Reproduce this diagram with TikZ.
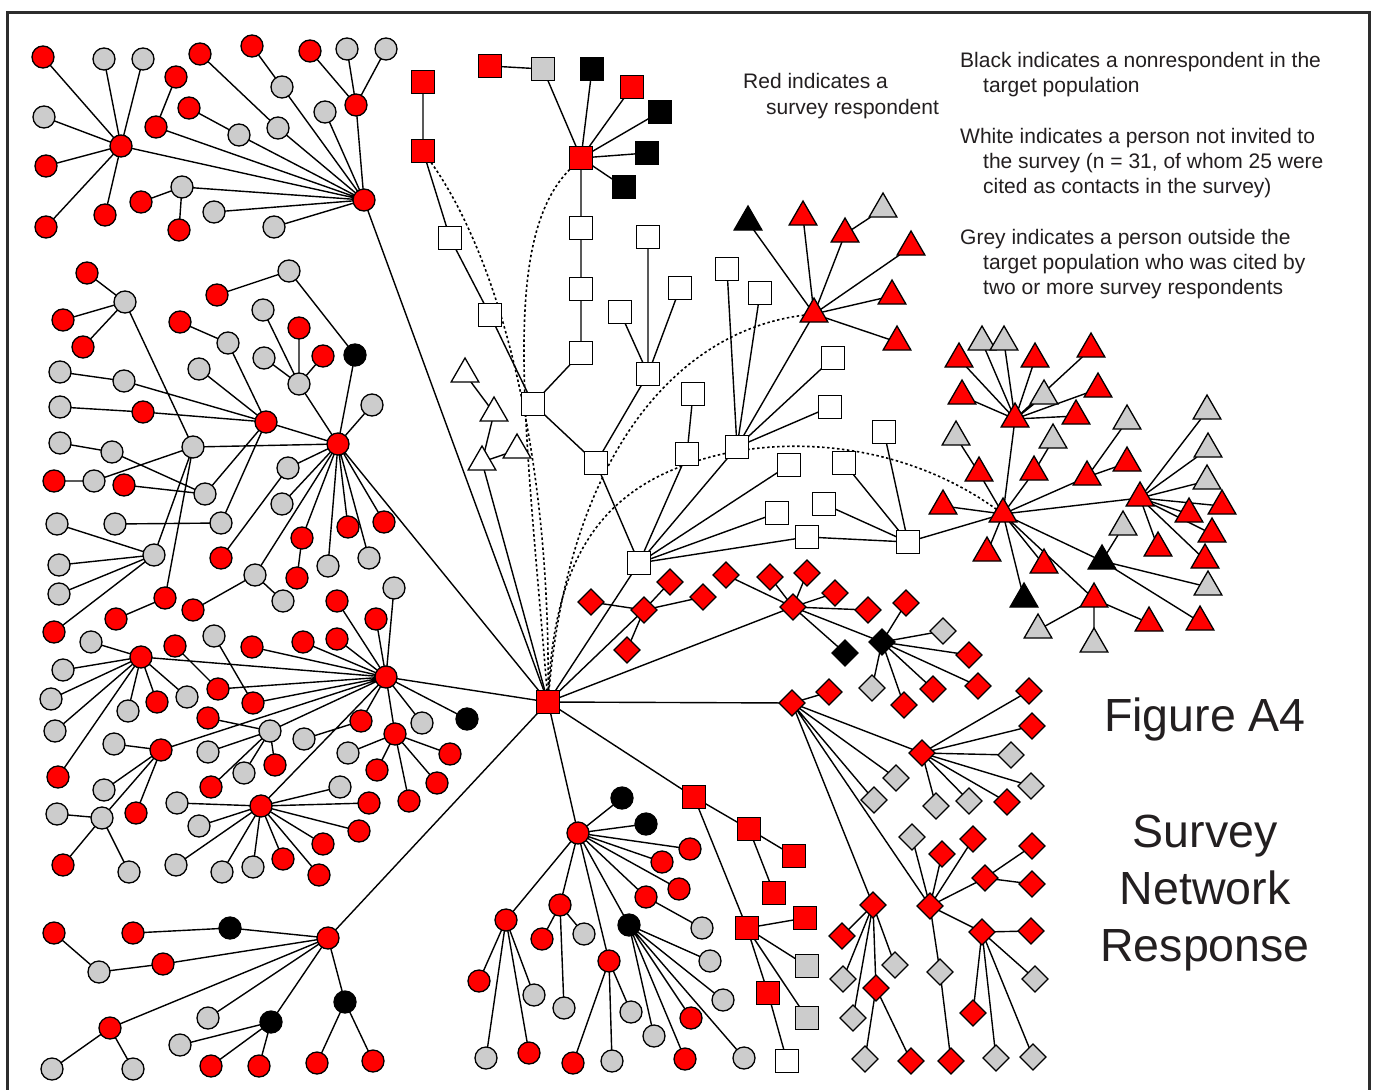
\documentclass[tikz,border=0pt]{standalone}
\usepackage{fontspec}
\setmainfont{Liberation Sans}
\usetikzlibrary{shapes.geometric}
\definecolor{rr}{RGB}{255,0,0}
\definecolor{gg}{RGB}{204,204,204}
\definecolor{fr}{RGB}{45,45,45}
\definecolor{tx}{RGB}{35,31,32}
\pgfdeclarelayer{bg}
\pgfsetlayers{bg,main}
\newcommand\mynd[3]{\node[#1] (#2) at (#3) {};}
\tikzset{
 nbase/.style={draw=black, line width=1.3pt, inner sep=0pt, outer sep=0pt},
 ncirc/.style={nbase, circle, minimum size=22pt},
 nsq/.style={nbase, rectangle, minimum size=23pt},
 ntri/.style={nbase, regular polygon, regular polygon sides=3, minimum size=32pt, yshift=-4pt},
 ndia/.style={nbase, diamond, minimum width=26pt, minimum height=26pt},
 ncr/.style={ncirc, fill=rr}, ncg/.style={ncirc, fill=gg}, nck/.style={ncirc, fill=black},
 nsr/.style={nsq, fill=rr}, nsg/.style={nsq, fill=gg}, nsk/.style={nsq, fill=black}, nsw/.style={nsq, fill=white},
 ntr/.style={ntri, fill=rr}, ntg/.style={ntri, fill=gg}, ntk/.style={ntri, fill=black}, ntw/.style={ntri, fill=white},
 ndr/.style={ndia, fill=rr}, ndg/.style={ndia, fill=gg}, ndk/.style={ndia, fill=black},
 lk/.style={line width=1.4pt, draw=black},
 dotl/.style={line width=1.6pt, draw=black, dash pattern=on 2.5pt off 2.5pt},
 lg/.style={font=\fontsize{21}{25}\selectfont, anchor=base west, inner sep=0pt, text=tx},
 big/.style={font=\fontsize{46.5}{57}\selectfont, anchor=base, inner sep=0pt, text=tx},
}
\begin{document}
\begin{tikzpicture}[x=1pt,y=-1pt]
\useasboundingbox (0,0) rectangle (1375,1089);
\begin{pgfonlayer}{bg}
\fill[white] (0,0) rectangle (1375,1089);
\end{pgfonlayer}
\draw[line width=2.6pt, fr] (7.5,1095) -- (7.5,12.5) -- (1369.5,12.5) -- (1369.5,1095);
% hub
\mynd{nsr}{H}{548,702}
% cluster A
\mynd{ncr}{a1}{364,200}
\mynd{ncr}{a2}{121,146}
\mynd{ncr}{a3}{43,57}
\mynd{ncg}{a4}{104,59}
\mynd{ncg}{a5}{143,59}
\mynd{ncg}{a6}{44,117}
\mynd{ncr}{a7}{46,166}
\mynd{ncr}{a8}{46,227}
\mynd{ncr}{a9}{105,215}
\mynd{ncr}{a10}{156,127}
\mynd{ncr}{a11}{176,77}
\mynd{ncg}{a12}{239,135}
\mynd{ncr}{a13}{189,108}
\mynd{ncg}{a14}{278,128}
\mynd{ncr}{a15}{200,54}
\mynd{ncg}{a16}{282,87}
\mynd{ncr}{a17}{252,46}
\mynd{ncg}{a18}{325,112}
\mynd{ncr}{a19}{356,105}
\mynd{ncr}{a20}{310,51}
\mynd{ncg}{a21}{347,49}
\mynd{ncg}{a22}{386,49}
\mynd{ncg}{a23}{182,187}
\mynd{ncr}{a24}{141,202}
\mynd{ncr}{a25}{179,230}
\mynd{ncg}{a26}{214,212}
\mynd{ncg}{a27}{274,227}
% cluster B
\mynd{ncr}{b1}{338,444}
\mynd{ncr}{b2}{266,422}
\mynd{ncr}{b3}{87,273}
\mynd{ncg}{b4}{125,302}
\mynd{ncr}{b5}{63,320}
\mynd{ncr}{b6}{83,347}
\mynd{ncg}{b7}{60,372}
\mynd{ncg}{b8}{124,381}
\mynd{ncg}{b9}{60,407}
\mynd{ncr}{b10}{143,412}
\mynd{ncg}{b11}{60,443}
\mynd{ncg}{b12}{112,452}
\mynd{ncr}{b13}{54,481}
\mynd{ncg}{b14}{94,481}
\mynd{ncr}{b15}{124,485}
\mynd{ncg}{b16}{205,494}
\mynd{ncg}{b17}{193,447}
\mynd{ncg}{b18}{57,524}
\mynd{ncg}{b19}{59,565}
\mynd{ncg}{b20}{59,594}
\mynd{ncg}{b21}{154,555}
\mynd{ncr}{b22}{165,598}
\mynd{ncr}{b23}{54,632}
\mynd{ncg}{b24}{115,524}
\mynd{ncg}{b25}{221,523}
\mynd{ncr}{b26}{217,295}
\mynd{ncg}{b27}{289,271}
\mynd{nck}{b28}{355,355}
\mynd{ncr}{b29}{180,322}
\mynd{ncg}{b30}{228,343}
\mynd{ncg}{b31}{199,369}
\mynd{ncg}{b32}{263,310}
\mynd{ncr}{b33}{299,328}
\mynd{ncg}{b34}{264,358}
\mynd{ncr}{b35}{323,356}
\mynd{ncg}{b36}{299,384}
\mynd{ncg}{b37}{372,405}
\mynd{ncg}{b38}{288,468}
\mynd{ncr}{b39}{221,558}
\mynd{ncg}{b40}{282,504}
\mynd{ncr}{b41}{302,538}
\mynd{ncr}{b42}{297,578}
\mynd{ncr}{b43}{348,527}
\mynd{ncr}{b44}{384,522}
\mynd{ncg}{b45}{328,566}
\mynd{ncg}{b46}{369,558}
\mynd{ncg}{b47}{255,575}
\mynd{ncg}{b48}{283,601}
\mynd{ncr}{b49}{193,610}
\mynd{ncr}{b50}{116,619}
% cluster D (left lower)
\mynd{ncr}{d1}{386,677}
\mynd{ncr}{d2}{141,657}
\mynd{ncg}{d3}{91,642}
\mynd{ncg}{d4}{63,670}
\mynd{ncg}{d5}{51,699}
\mynd{ncg}{d6}{55,731}
\mynd{ncr}{d7}{58,777}
\mynd{ncg}{d8}{128,711}
\mynd{ncr}{d9}{157,702}
\mynd{ncg}{d10}{187,697}
\mynd{ncr}{d11}{175,646}
\mynd{ncr}{d12}{218,689}
\mynd{ncg}{d13}{214,636}
\mynd{ncr}{d14}{253,703}
\mynd{ncr}{d15}{252,647}
\mynd{ncr}{d16}{303,642}
\mynd{ncr}{d17}{337,639}
\mynd{ncr}{d18}{337,601}
\mynd{ncr}{d19}{376,619}
\mynd{ncg}{d20}{394,588}
\mynd{ncr}{d21}{161,750}
\mynd{ncg}{d22}{114,744}
\mynd{ncg}{d23}{104,790}
\mynd{ncg}{d24}{102,818}
\mynd{ncr}{d25}{136,813}
\mynd{ncg}{d26}{57,814}
\mynd{ncr}{d27}{63,865}
\mynd{ncg}{d28}{129,872}
\mynd{ncg}{d29}{270,731}
\mynd{ncr}{d30}{208,718}
\mynd{ncg}{d31}{208,752}
\mynd{ncg}{d32}{244,773}
\mynd{ncr}{d33}{275,765}
\mynd{ncr}{d34}{211,787}
\mynd{ncg}{d35}{304,739}
\mynd{ncr}{d36}{361,721}
\mynd{ncr}{d37}{395,734}
\mynd{ncg}{d38}{348,753}
\mynd{ncr}{d39}{377,770}
\mynd{ncr}{d40}{450,754}
\mynd{ncr}{d41}{437,783}
\mynd{ncr}{d42}{409,801}
\mynd{ncg}{d43}{422,723}
\mynd{nck}{d44}{467,719}
\mynd{ncr}{d45}{261,806}
\mynd{ncg}{d46}{177,803}
\mynd{ncg}{d47}{199,826}
\mynd{ncg}{d48}{340,787}
\mynd{ncr}{d49}{369,803}
\mynd{ncr}{d50}{359,831}
\mynd{ncr}{d51}{323,844}
\mynd{ncr}{d52}{319,875}
\mynd{ncr}{d53}{283,859}
\mynd{ncg}{d54}{253,867}
\mynd{ncg}{d55}{222,872}
\mynd{ncg}{d56}{176,865}
% cluster E (bottom left)
\mynd{ncr}{e1}{328,938}
\mynd{ncr}{e2}{54,933}
\mynd{ncr}{e3}{133,933}
\mynd{ncg}{e4}{99,972}
\mynd{nck}{e5}{230,928}
\mynd{ncr}{e6}{163,964}
\mynd{ncr}{e7}{110,1028}
\mynd{ncg}{e8}{52,1069}
\mynd{ncg}{e9}{133,1069}
\mynd{ncg}{e10}{208,1018}
\mynd{nck}{e11}{271,1022}
\mynd{ncg}{e12}{180,1045}
\mynd{ncr}{e13}{211,1066}
\mynd{ncr}{e14}{259,1066}
\mynd{nck}{e15}{345,1002}
\mynd{ncr}{e16}{317,1063}
\mynd{ncr}{e17}{373,1061}
% cluster F (bottom middle)
\mynd{ncr}{f1}{578,833}
\mynd{nck}{f2}{622,798}
\mynd{nck}{f3}{646,824}
\mynd{ncr}{f4}{690,849}
\mynd{ncr}{f5}{662,862}
\mynd{ncr}{f6}{679,889}
\mynd{ncr}{f7}{646,897}
\mynd{ncg}{f8}{702,928}
\mynd{nck}{f9}{629,925}
\mynd{ncg}{f10}{710,961}
\mynd{ncg}{f11}{723,1000}
\mynd{ncr}{f12}{691,1018}
\mynd{ncg}{f13}{654,1036}
\mynd{ncr}{f14}{685,1059}
\mynd{ncg}{f15}{744,1058}
\mynd{ncr}{f16}{506,920}
\mynd{ncr}{f17}{479,981}
\mynd{ncg}{f18}{534,995}
\mynd{ncg}{f19}{486,1058}
\mynd{ncr}{f20}{529,1053}
\mynd{ncr}{f21}{560,905}
\mynd{ncr}{f22}{542,939}
\mynd{ncg}{f23}{584,934}
\mynd{ncg}{f24}{564,1008}
\mynd{ncr}{f25}{609,961}
\mynd{ncg}{f26}{631,1012}
\mynd{ncr}{f27}{573,1063}
\mynd{ncg}{f28}{612,1061}
% red squares bottom
\mynd{nsr}{s1}{694,797}
\mynd{nsr}{s2}{749,829}
\mynd{nsr}{s3}{794,856}
\mynd{nsr}{s4}{774,893}
\mynd{nsr}{s5}{747,928}
\mynd{nsr}{s6}{805,918}
\mynd{nsg}{s7}{807,966}
\mynd{nsg}{s8}{807,1018}
\mynd{nsr}{s9}{768,993}
\mynd{nsw}{s10}{787,1061}
% squares top
\mynd{nsr}{t1}{423,82}
\mynd{nsr}{t2}{423,151}
\mynd{nsw}{t3}{450,238}
\mynd{nsw}{t4}{490,315}
\mynd{nsw}{t5}{533,404}
\mynd{nsr}{t6}{490,66}
\mynd{nsg}{t7}{543,69}
\mynd{nsr}{t8}{581,158}
\mynd{nsk}{t9}{592,69}
\mynd{nsr}{t10}{632,87}
\mynd{nsk}{t11}{660,112}
\mynd{nsk}{t12}{647,153}
\mynd{nsk}{t13}{624,187}
\mynd{nsw}{t14}{581,228}
\mynd{nsw}{t15}{581,289}
\mynd{nsw}{t16}{581,353}
\mynd{nsw}{t17}{596,463}
\mynd{nsw}{t18}{648,374}
\mynd{nsw}{t19}{648,237}
\mynd{nsw}{t20}{680,288}
\mynd{nsw}{t21}{620,312}
\mynd{nsw}{t22}{639,563}
\mynd{nsw}{t23}{687,454}
\mynd{nsw}{t24}{693,394}
\mynd{nsw}{t25}{737,447}
\mynd{nsw}{t26}{727,269}
\mynd{nsw}{t27}{760,293}
\mynd{nsw}{t28}{833,358}
\mynd{nsw}{t29}{830,407}
\mynd{nsw}{t30}{789,465}
\mynd{nsw}{t31}{777,513}
\mynd{nsw}{t32}{807,537}
\mynd{nsw}{t33}{908,542}
\mynd{nsw}{t34}{824,504}
\mynd{nsw}{t35}{844,463}
\mynd{nsw}{t36}{884,432}
% white triangles
\mynd{ntw}{w1}{465,370}
\mynd{ntw}{w2}{494,409}
\mynd{ntw}{w3}{482,458}
\mynd{ntw}{w4}{517,446}
% triangle hub U
\mynd{ntr}{u1}{814,310}
\mynd{ntk}{u2}{748,218}
\mynd{ntr}{u3}{803,213}
\mynd{ntr}{u4}{845,230}
\mynd{ntg}{u5}{883,205}
\mynd{ntr}{u6}{911,243}
\mynd{ntr}{u7}{892,292}
\mynd{ntr}{u8}{897,338}
% triangle cluster V
\mynd{ntr}{v1}{1003,510}
\mynd{ntr}{v2}{1015,415}
\mynd{ntg}{v3}{982,338}
\mynd{ntg}{v4}{1004,338}
\mynd{ntr}{v5}{959,355}
\mynd{ntr}{v6}{1035,355}
\mynd{ntr}{v7}{1091,345}
\mynd{ntr}{v8}{962,392}
\mynd{ntg}{v9}{1044,392}
\mynd{ntr}{v10}{1098,385}
\mynd{ntr}{v11}{1076,412}
\mynd{ntg}{v12}{956,433}
\mynd{ntr}{v13}{979,469}
\mynd{ntg}{v14}{1053,436}
\mynd{ntr}{v15}{1034,468}
\mynd{ntg}{v16}{1127,417}
\mynd{ntr}{v17}{1087,473}
\mynd{ntr}{v18}{1127,459}
\mynd{ntr}{v19}{1140,494}
\mynd{ntg}{v20}{1207,407}
\mynd{ntg}{v21}{1208,445}
\mynd{ntg}{v22}{1207,477}
\mynd{ntr}{v23}{1222,502}
\mynd{ntr}{v24}{1189,510}
\mynd{ntr}{v25}{1212,530}
\mynd{ntr}{v26}{1205,556}
\mynd{ntr}{v27}{1158,544}
\mynd{ntr}{v28}{943,502}
\mynd{ntr}{v29}{987,549}
\mynd{ntr}{v30}{1044,561}
\mynd{ntk}{v31}{1024,595}
\mynd{ntk}{v32}{1102,557}
\mynd{ntg}{v33}{1123,523}
\mynd{ntg}{v34}{1208,583}
\mynd{ntr}{v35}{1200,618}
\mynd{ntr}{v36}{1094,595}
\mynd{ntg}{v37}{1038,626}
\mynd{ntg}{v38}{1094,640}
\mynd{ntr}{v39}{1149,619}
% diamonds
\mynd{ndr}{x1}{644,610}
\mynd{ndr}{x2}{591,602}
\mynd{ndr}{x3}{670,582}
\mynd{ndr}{x4}{703,597}
\mynd{ndr}{x5}{627,650}
\mynd{ndr}{x6}{793,607}
\mynd{ndr}{x7}{726,575}
\mynd{ndr}{x8}{770,577}
\mynd{ndr}{x9}{807,573}
\mynd{ndr}{x10}{835,593}
\mynd{ndr}{x11}{868,610}
\mynd{ndk}{x12}{845,653}
\mynd{ndk}{x13}{882,642}
\mynd{ndr}{x14}{906,603}
\mynd{ndg}{x15}{943,631}
\mynd{ndr}{x16}{969,655}
\mynd{ndr}{x17}{978,686}
\mynd{ndg}{x18}{872,688}
\mynd{ndr}{x19}{904,705}
\mynd{ndr}{x20}{933,689}
\mynd{ndr}{x21}{792,703}
\mynd{ndr}{x22}{829,692}
\mynd{ndr}{x23}{922,753}
\mynd{ndr}{x24}{1029,691}
\mynd{ndr}{x25}{1032,726}
\mynd{ndg}{x26}{1011,755}
\mynd{ndg}{x27}{1031,786}
\mynd{ndr}{x28}{1007,802}
\mynd{ndg}{x29}{969,801}
\mynd{ndg}{x30}{936,806}
\mynd{ndg}{x31}{896,778}
\mynd{ndg}{x32}{874,800}
\mynd{ndr}{x33}{930,906}
\mynd{ndg}{x34}{912,837}
\mynd{ndr}{x35}{942,854}
\mynd{ndr}{x36}{973,839}
\mynd{ndr}{x37}{985,878}
\mynd{ndr}{x38}{1032,846}
\mynd{ndr}{x39}{1032,884}
\mynd{ndr}{x40}{982,932}
\mynd{ndr}{x41}{1031,931}
\mynd{ndg}{x42}{1035,979}
\mynd{ndr}{x43}{973,1013}
\mynd{ndg}{x44}{996,1058}
\mynd{ndg}{x45}{1033,1057}
\mynd{ndg}{x46}{940,972}
\mynd{ndr}{x47}{951,1061}
\mynd{ndr}{x48}{873,905}
\mynd{ndr}{x49}{842,936}
\mynd{ndg}{x50}{895,965}
\mynd{ndg}{x51}{843,979}
\mynd{ndr}{x52}{876,988}
\mynd{ndg}{x53}{853,1018}
\mynd{ndg}{x54}{865,1059}
\mynd{ndr}{x55}{911,1061}
\coordinate (m4) at (700,460);
% edges
\begin{pgfonlayer}{bg}
\draw[lk] (a1)--(H) (a2)--(a1) (a3)--(a2) (a4)--(a2) (a5)--(a2) (a6)--(a2) (a7)--(a2) (a8)--(a2) (a9)--(a2) (a10)--(a1) (a11)--(a10) (a12)--(a1) (a13)--(a12) (a14)--(a1) (a15)--(a14) (a16)--(a1) (a17)--(a16) (a18)--(a1) (a19)--(a1) (a20)--(a19) (a21)--(a19) (a22)--(a19) (a23)--(a1) (a24)--(a23) (a25)--(a23) (a26)--(a1) (a27)--(a1);
\draw[lk] (b1)--(H) (b2)--(b1) (b3)--(b4) (b5)--(b4) (b6)--(b4) (b4)--(b17) (b7)--(b8) (b8)--(b2) (b9)--(b10) (b10)--(b2) (b11)--(b12) (b12)--(b16) (b13)--(b14) (b14)--(b17) (b15)--(b16) (b16)--(b2) (b17)--(b1) (b18)--(b21) (b19)--(b21) (b20)--(b21) (b21)--(b17) (b22)--(b17) (b23)--(b21) (b24)--(b25) (b25)--(b2) (b26)--(b27) (b27)--(b28) (b28)--(b1) (b29)--(b30) (b30)--(b2) (b31)--(b2) (b32)--(b36) (b33)--(b36) (b34)--(b36) (b35)--(b36) (b36)--(b1) (b37)--(b1) (b38)--(b1) (b39)--(b38) (b40)--(b1) (b41)--(b1) (b42)--(b41) (b43)--(b1) (b44)--(b1) (b45)--(b1) (b46)--(b1) (b47)--(b1) (b48)--(b47) (b49)--(b47) (b50)--(b22);
\draw[lk] (d1)--(H) (d2)--(d1) (d3)--(d2) (d4)--(d2) (d5)--(d2) (d6)--(d2) (d7)--(d2) (d8)--(d2) (d9)--(d2) (d10)--(d2) (d11)--(d12) (d12)--(d1) (d13)--(d14) (d14)--(d1) (d15)--(d1) (d16)--(d1) (d17)--(d1) (d18)--(d1) (d19)--(d1) (d20)--(d1) (d21)--(d1) (d22)--(d21) (d23)--(d21) (d24)--(d21) (d25)--(d21) (d26)--(d24) (d27)--(d24) (d28)--(d24) (d29)--(d1) (d30)--(d29) (d31)--(d29) (d32)--(d29) (d33)--(d29) (d34)--(d29) (d35)--(d36) (d36)--(d1) (d37)--(d1) (d38)--(d37) (d39)--(d37) (d40)--(d37) (d41)--(d37) (d42)--(d37) (d43)--(d1) (d44)--(d1) (d45)--(d1) (d46)--(d45) (d47)--(d45) (d48)--(d45) (d49)--(d45) (d50)--(d45) (d51)--(d45) (d52)--(d45) (d53)--(d45) (d54)--(d45) (d55)--(d45) (d56)--(d45);
\draw[lk] (e1)--(H) (e2)--(e4) (e3)--(e5) (e5)--(e1) (e4)--(e6) (e6)--(e1) (e7)--(e1) (e8)--(e7) (e9)--(e7) (e10)--(e1) (e11)--(e1) (e12)--(e11) (e13)--(e11) (e14)--(e11) (e15)--(e1) (e16)--(e15) (e17)--(e15);
\draw[lk] (f1)--(H) (f2)--(f1) (f3)--(f1) (f4)--(f1) (f5)--(f1) (f6)--(f1) (f7)--(f1) (f8)--(f7) (f9)--(f1) (f10)--(f9) (f11)--(f9) (f12)--(f9) (f13)--(f9) (f14)--(f9) (f15)--(f9) (f16)--(f1) (f17)--(f16) (f18)--(f16) (f19)--(f16) (f20)--(f16) (f21)--(f1) (f22)--(f21) (f23)--(f21) (f24)--(f21) (f25)--(f1) (f26)--(f25) (f27)--(f25) (f28)--(f25);
\draw[lk] (s1)--(H) (s2)--(s1) (s3)--(s2) (s4)--(s2) (s5)--(s1) (s6)--(s5) (s7)--(s5) (s8)--(s5) (s9)--(s5) (s10)--(s9);
\draw[lk] (t1)--(t2) (t2)--(t3) (t3)--(t4) (t4)--(t5) (t6)--(t7) (t7)--(t8) (t9)--(t8) (t10)--(t8) (t11)--(t8) (t12)--(t8) (t13)--(t8) (t14)--(t8) (t15)--(t14) (t16)--(t15) (t16)--(t5) (t17)--(t5) (t18)--(t17) (t19)--(t18) (t20)--(t18) (t21)--(t18) (t22)--(t17) (t22)--(H) (t23)--(t22) (t24)--(t23) (t25)--(t22) (t26)--(t25) (t27)--(t25) (t28)--(t25) (t29)--(t25) (t30)--(t22) (t31)--(t22) (t32)--(t22) (t33)--(t32) (t34)--(t33) (t35)--(t33) (t36)--(t33);
\draw[lk] (w1)--(w2) (w2)--(w3) (w4)--(w3) (w3)--(H);
\draw[lk] (u1)--(t25) (u2)--(u1) (u3)--(u1) (u4)--(u1) (u5)--(u4) (u6)--(u1) (u7)--(u1) (u8)--(u1);
\draw[lk] (v1)--(t33) (v2)--(v1) (v3)--(v2) (v4)--(v2) (v5)--(v2) (v6)--(v2) (v7)--(v2) (v8)--(v2) (v9)--(v2) (v10)--(v2) (v11)--(v2) (v12)--(v13) (v13)--(v1) (v14)--(v15) (v15)--(v1) (v16)--(v17) (v17)--(v1) (v18)--(v17) (v19)--(v1) (v20)--(v19) (v21)--(v19) (v22)--(v19) (v23)--(v19) (v24)--(v19) (v25)--(v19) (v26)--(v19) (v27)--(v19) (v28)--(v1) (v29)--(v1) (v30)--(v1) (v31)--(v1) (v32)--(v1) (v33)--(v32) (v34)--(v32) (v35)--(v32) (v36)--(v1) (v37)--(v36) (v38)--(v36) (v39)--(v36);
\draw[lk] (x1)--(H) (x2)--(x1) (x3)--(x1) (x4)--(x1) (x5)--(x1) (x6)--(H) (x7)--(x6) (x8)--(x6) (x9)--(x6) (x10)--(x6) (x11)--(x6) (x12)--(x6) (x13)--(x6) (x14)--(x13) (x15)--(x13) (x16)--(x13) (x17)--(x13) (x18)--(x13) (x19)--(x13) (x20)--(x13) (x21)--(H) (x22)--(x21) (x23)--(x21) (x24)--(x23) (x25)--(x23) (x26)--(x23) (x27)--(x23) (x28)--(x23) (x29)--(x23) (x30)--(x23) (x31)--(x21) (x32)--(x21) (x33)--(x21) (x34)--(x33) (x35)--(x33) (x36)--(x33) (x37)--(x33) (x38)--(x37) (x39)--(x37) (x40)--(x33) (x41)--(x40) (x42)--(x40) (x43)--(x40) (x44)--(x40) (x45)--(x40) (x46)--(x33) (x47)--(x46) (x48)--(x21) (x49)--(x48) (x50)--(x48) (x51)--(x48) (x52)--(x48) (x53)--(x48) (x54)--(x52) (x55)--(x52);
\draw[dotl] (t2) .. controls (500,260) and (550,450) .. (H);
\draw[dotl] (t8) .. controls (500,240) and (525,420) .. (H);
\draw[dotl] (u1) .. controls (680,330) and (570,450) .. (H);
\draw[dotl] (v1) .. controls (900,440) and (780,435) .. (m4) .. controls (600,490) and (555,560) .. (H);
\end{pgfonlayer}
% legend
\node[lg] (l1) at (743,89) {Red indicates a};
\node[lg] (l2) at (766,114) {survey respondent};
\node[lg] (l3) at (960,68) {Black indicates a nonrespondent in the};
\node[lg] (l4) at (983,93) {target population};
\node[lg] (l5) at (960,143) {White indicates a person not invited to};
\node[lg] (l6) at (983,168) {the survey (n = 31, of whom 25 were};
\node[lg] (l7) at (983,193) {cited as contacts in the survey)};
\node[lg] (l8) at (960,244) {Grey indicates a person outside the};
\node[lg] (l9) at (983,269) {target population who was cited by};
\node[lg] (l10) at (983,294) {two or more survey respondents};
\node[big] (g1) at (1205,731) {Figure A4};
\node[big] (g2) at (1205,847) {Survey};
\node[big] (g3) at (1205,904) {Network};
\node[big] (g4) at (1205,961) {Response};
\end{tikzpicture}
\end{document}
